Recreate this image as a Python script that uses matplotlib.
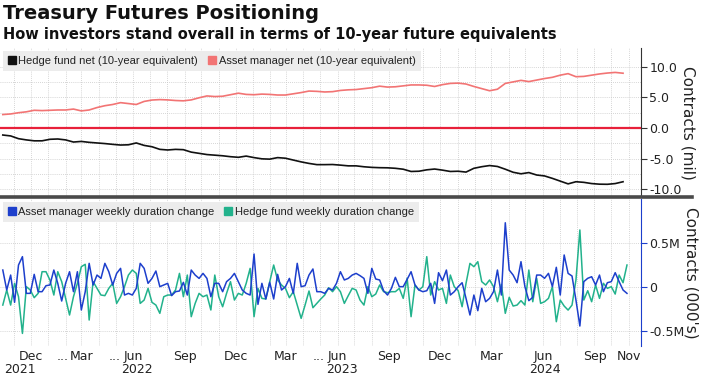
import numpy as np
import pandas as pd
import matplotlib
matplotlib.use("Agg")
import matplotlib.pyplot as plt
import matplotlib.dates as mdates
from matplotlib.lines import Line2D
from matplotlib import font_manager

# ---------------- data ----------------
title = "Treasury Futures Positioning"
subtitle = "How investors stand overall in terms of 10-year future equivalents"

# bi-weekly readings of net positions (million contracts, 10-year equivalents)
net_dates = pd.date_range("2021-10-12", periods=80, freq="14D")
hedge_fund_net = [
    -1.15, -1.3, -1.75, -1.95, -2.1, -2.1, -1.85, -1.8, -1.95, -2.3,
    -2.2, -2.35, -2.45, -2.55, -2.68, -2.79, -2.75, -2.45, -2.85, -3.07,
    -3.5, -3.6, -3.5, -3.55, -3.95, -4.15, -4.35, -4.45, -4.55, -4.7,
    -4.8, -4.6, -4.85, -5.05, -5.1, -4.85, -4.95, -5.25, -5.55, -5.8,
    -6.0, -6.0, -5.98, -6.08, -6.2, -6.2, -6.35, -6.45, -6.5, -6.52,
    -6.6, -6.75, -7.12, -7.08, -6.85, -6.72, -6.9, -7.12, -7.08, -7.22,
    -6.6, -6.34, -6.15, -6.3, -6.75, -7.25, -7.5, -7.3, -7.7, -7.85,
    -8.25, -8.7, -9.15, -8.8, -8.9, -9.1, -9.2, -9.22, -9.1, -8.8,
]
asset_manager_net = [
    2.2, 2.3, 2.5, 2.65, 2.9, 2.85, 2.9, 2.95, 2.95, 3.1,
    2.8, 2.95, 3.35, 3.65, 3.85, 4.15, 4.0, 3.85, 4.35, 4.58,
    4.65, 4.6, 4.5, 4.45, 4.6, 4.95, 5.25, 5.15, 5.2, 5.45,
    5.7, 5.5, 5.45, 5.55, 5.5, 5.4, 5.4, 5.6, 5.8, 6.05,
    6.0, 5.9, 5.95, 6.15, 6.25, 6.3, 6.45, 6.6, 6.85, 6.7,
    6.75, 6.9, 7.05, 7.05, 7.0, 6.8, 7.1, 7.3, 7.35, 7.2,
    6.8, 6.45, 6.1, 6.35, 7.3, 7.55, 7.8, 7.6, 7.85, 8.1,
    8.3, 8.65, 8.9, 8.4, 8.45, 8.65, 8.85, 9.0, 9.1, 8.97,
]

# weekly duration changes (thousand contracts)
weekly_dates = pd.date_range("2021-10-12", periods=160, freq="7D")
asset_manager_weekly = [
    193, -34, 136, -174, 250, 345, -72, -72, 144, -53,
    -53, 15, 23, 193, 42, -159, 42, 174, -53, 174,
    -261, -53, 269, 23, 136, 98, 269, 174, 23, 155,
    212, -91, -72, -91, -15, 269, 212, 42, 98, 182,
    4, 23, 42, -98, -53, -45, 53, -91, 193, 136,
    98, 155, 98, -110, 42, 42, -53, 61, 98, 155,
    61, -34, -72, -91, 375, -197, 42, -136, 53, -136,
    144, -34, 4, 98, -72, 269, 4, 15, 136, 205,
    -53, -53, -72, -15, -34, 42, 174, 80, 98, 136,
    155, 129, 98, -72, 212, 91, 80, -42, -91, -15,
    110, 4, 4, 87, 174, 23, -34, -53, -42, 42,
    -186, 163, 72, 193, -91, -53, 4, 49, -129, -318,
    -91, -269, -15, -167, -129, -53, 193, -91, 730, 193,
    136, 49, 288, 4, -155, -117, 136, 136, 99, 155,
    4, 224, -91, 364, 155, 125, -148, -443, 61, 99,
    117, 23, 136, -53, 49, 61, 163, 61, -34, -72,
]
hedge_fund_weekly = [
    -205, -34, -205, 42, -110, -527, 4, -34, -121, -72,
    174, 174, 80, -91, 174, 61, -129, -318, -110, 42,
    231, 258, -375, 61, -15, -91, -98, -15, 42, -186,
    -110, 4, 136, 193, 155, -186, -148, -15, -174, -205,
    -299, -110, -91, -91, -34, 155, -110, 136, -337, -186,
    -72, -110, -91, -261, 136, -110, -224, -72, 61, -148,
    -72, -91, 42, 212, -337, -15, -129, -136, 61, 250,
    80, 23, -15, -121, -53, -205, -356, -205, -45, -235,
    -186, -136, -91, -8, -53, 4, -53, -186, -98, -15,
    -34, -148, -205, 4, -110, -80, 23, -53, -64, -53,
    -53, -15, -129, 99, -337, 23, -34, 4, 345, -91,
    61, -34, -15, -186, 136, 4, -42, -224, 42, 269,
    231, 288, 61, 23, 80, 4, -167, 30, -299, -117,
    -216, -205, -155, -205, 193, -167, 99, -186, -167, -129,
    4, -394, -148, -216, -262, -205, 80, 648, -148, -42,
    -167, 23, -129, 42, -15, 4, -80, 136, 49, 250,
]

top_legend_labels = ["Hedge fund net (10-year equivalent)", "Asset manager net (10-year equivalent)"]
bottom_legend_labels = ["Asset manager weekly duration change", "Hedge fund weekly duration change"]

top_ticks = [10, 5, 0, -5, -10]
top_tick_labels = ["10.0", "5.0", "0.0", "-5.0", "-10.0"]
bottom_ticks = [500, 0, -500]
bottom_tick_labels = ["0.5M", "0", "-0.5M"]

month_ticks = ["2021-12-01", "2022-03-01", "2022-06-01", "2022-09-01", "2022-12-01",
               "2023-03-01", "2023-06-01", "2023-09-01", "2023-12-01", "2024-03-01",
               "2024-06-01", "2024-09-01", "2024-11-01"]
month_labels = ["Dec", "Mar", "Jun", "Sep", "Dec", "Mar", "Jun", "Sep", "Dec", "Mar",
                "Jun", "Sep", "Nov"]
month_ellipsis = [False, True, True, False, False, False, True, False, False, False,
                  False, False, False]
year_ticks = ["2021-11-12", "2022-06-08", "2023-06-09", "2024-06-04"]
year_labels = ["2021", "2022", "2023", "2024"]

# ---------------- style ----------------
names = {f.name for f in font_manager.fontManager.ttflist}
if "Liberation Sans Narrow" in names:
    small_font, small_size = "Liberation Sans Narrow", 8.8
else:
    small_font, small_size = "Liberation Sans", 8.0
plt.rcParams["font.family"] = ["DejaVu Sans"]

C_BLACK = "#111111"
C_SALMON = "#f27474"
C_RED = "#e8203a"
C_BLUE = "#1d3fcc"
C_TEAL = "#22b28c"
C_GRID = "#c8c8c8"

W, H = 705, 378
fig = plt.figure(figsize=(W / 100, H / 100), dpi=100)

def box(x0, y0, x1, y1):
    return [x0 / W, 1 - y1 / H, (x1 - x0) / W, (y1 - y0) / H]

ax1 = fig.add_axes(box(0, 48, 641, 197))
ax2 = fig.add_axes(box(0, 199, 641, 346), sharex=ax1)

xmin = pd.Timestamp("2021-10-07")
xmax = pd.Timestamp("2024-11-23")

for ax in (ax1, ax2):
    ax.set_facecolor("white")
    for s in ("left", "top", "bottom"):
        ax.spines[s].set_visible(False)
    ax.yaxis.tick_right()
    ax.yaxis.set_label_position("right")
    ax.tick_params(axis="x", which="both", length=0, labelbottom=False)
    ax.xaxis.set_major_locator(mdates.MonthLocator())
    ax.grid(True, which="major", axis="x", color=C_GRID, lw=0.6, ls=(0, (1, 1.5)))
    ax.set_xlim(xmin, xmax)

# ---- top panel ----
ax1.plot(net_dates, hedge_fund_net, color=C_BLACK, lw=1.2)
ax1.plot(net_dates, asset_manager_net, color=C_SALMON, lw=1.2)
ax1.axhline(0, color=C_RED, lw=1.6, zorder=3)
ax1.set_ylim(-11.3, 13.1)
ax1.set_yticks(top_ticks)
ax1.set_yticklabels(top_tick_labels)
ax1.set_yticks([7.5, 2.5, -2.5, -7.5], minor=True)
ax1.grid(True, which="both", axis="y", color=C_GRID, lw=0.6, ls=(0, (1, 1.5)))
ax1.spines["right"].set_color("#333333")
ax1.tick_params(axis="y", which="major", direction="out", length=4, color="#333333",
                labelsize=9, pad=2, labelcolor="#222222")
ax1.tick_params(axis="y", which="minor", length=0)
ax1.set_ylabel("Contracts (mil)", rotation=270, fontsize=11, labelpad=10, color="#222222")

# ---- bottom panel ----
ax2.plot(weekly_dates, asset_manager_weekly, color=C_BLUE, lw=1.1, zorder=3)
ax2.plot(weekly_dates, hedge_fund_weekly, color=C_TEAL, lw=1.1, zorder=2)
ax2.set_ylim(-670, 1000)
ax2.set_yticks(bottom_ticks)
ax2.set_yticklabels(bottom_tick_labels)
ax2.grid(True, which="major", axis="y", color=C_GRID, lw=0.6, ls=(0, (1, 1.5)))
ax2.spines["right"].set_color(C_BLUE)
ax2.tick_params(axis="y", direction="out", length=4, color=C_BLUE, labelsize=9, pad=2,
                labelcolor="#222222")
ax2.set_ylabel("Contracts (000's)", rotation=270, fontsize=11, labelpad=10, color="#222222")

# ---- legends ----
def sq(c):
    return Line2D([], [], marker="s", ls="none", color=c, markersize=6)

leg_kw = dict(loc="upper left", ncol=2, frameon=True, fancybox=False, handlelength=0.7,
              handletextpad=0.25, columnspacing=0.9, borderpad=0.45, borderaxespad=0.25,
              prop={"family": small_font, "size": small_size})
l1 = ax1.legend([sq(C_BLACK), sq(C_SALMON)], top_legend_labels, **leg_kw)
l2 = ax2.legend([sq(C_BLUE), sq(C_TEAL)], bottom_legend_labels, **leg_kw)
for lg in (l1, l2):
    lg.get_frame().set_facecolor("#ececec")
    lg.get_frame().set_edgecolor("none")
    lg.get_frame().set_alpha(1)
    for t in lg.get_texts():
        t.set_color("#222222")

# ---- separator line between panels ----
fig.add_artist(Line2D([0, 692 / W], [1 - 197.5 / H, 1 - 197.5 / H], color="#4a4a4a", lw=2.6))

# ---- x labels ----
trans = ax2.get_xaxis_transform()
for d, lab, ell in zip(month_ticks, month_labels, month_ellipsis):
    dn = mdates.date2num(pd.Timestamp(d))
    ax2.text(dn, -0.03, lab, transform=trans, ha="center", va="top", fontsize=9,
             color="#222222")
    if ell:
        ax2.annotate("...", xy=(dn, -0.03), xycoords=trans, xytext=(-9, 0),
                     textcoords="offset points", ha="right", va="top", fontsize=9,
                     color="#222222")
for d, lab in zip(year_ticks, year_labels):
    ax2.text(mdates.date2num(pd.Timestamp(d)), -0.115, lab, transform=trans, ha="center",
             va="top", fontsize=9, color="#222222")

# ---- titles ----
fig.text(3 / W, 1 - 4 / H, title, ha="left", va="top", fontsize=14, fontweight="bold",
         color="#111111")
fig.text(3 / W, 1 - 27 / H, subtitle, ha="left", va="top", fontsize=10.5,
         fontweight="bold", color="#111111")

fig.savefig("out.png", dpi=100)
